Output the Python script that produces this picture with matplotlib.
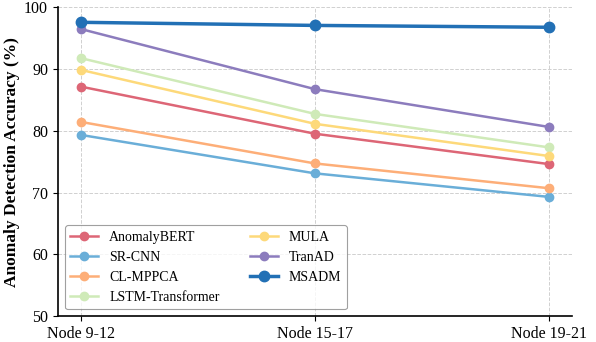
import matplotlib
matplotlib.use("Agg")
import matplotlib.pyplot as plt

plt.rcParams["font.family"] = ["Liberation Serif", "DejaVu Serif"]

# ── data ─────────────────────────────────────
nodes = ["Node 9-12", "Node 15-17", "Node 19-21"]

anomalybert = [87.1, 79.5, 74.6]
sr_cnn      = [79.3, 73.1, 69.3]
cl_mppca    = [81.4, 74.7, 70.7]
lstm_trans  = [91.7, 82.7, 77.3]
mula        = [89.8, 81.1, 75.9]
tranad      = [96.4, 86.7, 80.6]
msadm       = [97.5, 97.0, 96.7]

series = [
    ("AnomalyBERT",      anomalybert, "#dd6676"),
    ("SR-CNN",           sr_cnn,      "#6aaed8"),
    ("CL-MPPCA",         cl_mppca,    "#fdae78"),
    ("LSTM-Transformer", lstm_trans,  "#cfeab8"),
    ("MULA",             mula,        "#fdd97a"),
    ("TranAD",           tranad,      "#8c7cbd"),
    ("MSADM",            msadm,       "#2270b5"),
]

# ── plot ─────────────────────────────────────
fig, ax = plt.subplots(figsize=(5.96, 3.42), dpi=100)
x = list(range(len(nodes)))

for name, vals, col in series:
    if name == "MSADM":
        ax.plot(x, vals, color=col, lw=2.5, marker="o", ms=7.5, label=name, zorder=4)
    else:
        ax.plot(x, vals, color=col, lw=1.8, marker="o", ms=6, label=name, zorder=3)

ax.set_xticks(x)
ax.set_xticklabels(nodes, fontsize=11.5)
ax.set_xlim(-0.1, 2.1)
ax.set_ylim(50, 100)
ax.set_yticks([50, 60, 70, 80, 90, 100])
ax.tick_params(axis="y", labelsize=11.5)
ax.set_ylabel("Anomaly Detection Accuracy (%)", fontsize=12.5, fontweight="bold",
              labelpad=3)

ax.grid(True, ls="--", color="#d0d0d0", lw=0.7)
ax.set_axisbelow(True)
for s in ("top", "right"):
    ax.spines[s].set_visible(False)
ax.spines["left"].set_linewidth(1.2)
ax.spines["bottom"].set_linewidth(1.2)

leg = ax.legend(loc="lower left", ncol=2, fontsize=10, frameon=True,
                edgecolor="#888888", columnspacing=2.2, handlelength=2.0)
leg.get_frame().set_linewidth(0.8)

fig.subplots_adjust(left=0.097, right=0.96, top=0.98, bottom=0.075)
fig.savefig("out.png", dpi=100)
